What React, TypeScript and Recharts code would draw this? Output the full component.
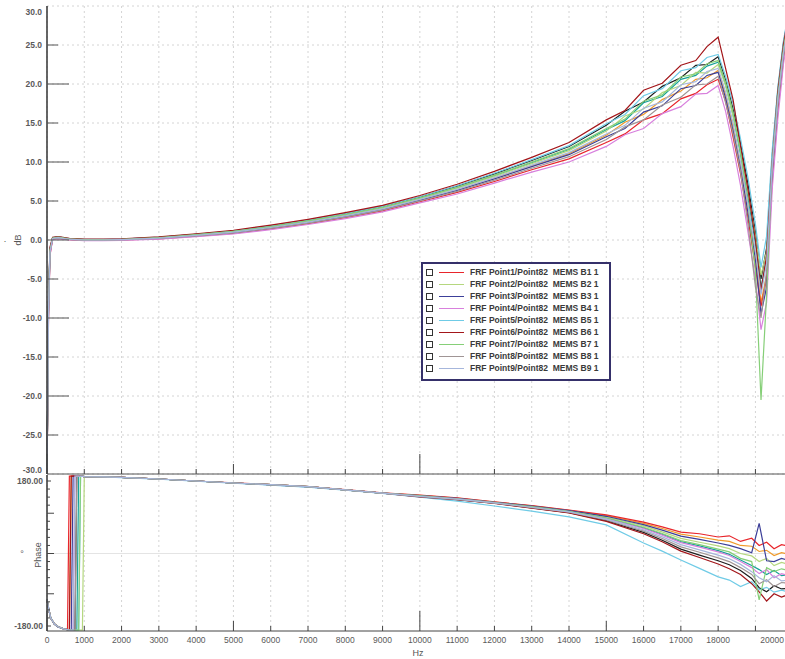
import React from 'react'
import {
  CartesianGrid,
  Legend,
  Line,
  LineChart,
  ReferenceLine,
  XAxis,
  YAxis,
} from 'recharts'

// frequency grid shared by every magnitude trace (Hz)
const magHz = [
  0, 40, 80, 150, 300, 600, 1000, 1500, 2000, 3000, 4000, 5000, 6000, 7000,
  8000, 9000, 10000, 11000, 12000, 13000, 14000, 15000, 15500, 16000, 16500,
  17000, 17400, 17700, 18000, 18200, 18400, 18600, 18800, 19000, 19150, 19300,
  19450, 19600, 19750, 19900, 20050,
]

// magnitude, dB
const magB1 = [-31, -10, -1.9, 0.1, 0.2, 0.05, -0.05, -0.05, 0, 0.15, 0.48, 0.85, 1.42, 2.09, 2.86, 3.73, 4.9, 6.1, 7.5, 9.0, 10.4, 12.5, 13.6, 15.4, 16.2, 18.1, 18.8, 19.9, 20.6, 17.8, 13.2, 8.5, 2.8, -3.5, -8.5, -5.0, 7.5, 16.5, 23.0, 27.7, 31.5]
const magB2 = [-31, -8.7, -1.4, 0.23, 0.33, 0.12, 0.02, 0.02, 0.07, 0.28, 0.64, 1.05, 1.66, 2.37, 3.18, 4.09, 5.3, 6.63, 8.16, 9.8, 11.46, 13.96, 15.9, 16.8, 18.9, 19.8, 21.5, 21.4, 22.5, 19.8, 15.9, 11.5, 6.0, 0.5, -4.5, -1.5, 10.5, 18.8, 24.6, 28.9, 32.2]
const magB3 = [-31, -9.3, -1.6, 0.17, 0.27, 0.08, -0.02, -0.02, 0.03, 0.22, 0.56, 0.95, 1.54, 2.23, 3.02, 3.91, 5.1, 6.37, 7.84, 9.4, 10.94, 13.24, 14.3, 16.4, 17.2, 19.4, 19.8, 21.1, 21.5, 18.2, 14.0, 9.2, 3.5, -2.5, -9.5, -6.0, 8.5, 17.5, 23.8, 28.3, 31.8]
const magB4 = [-31, -10.4, -2.0, 0.07, 0.17, 0.01, -0.09, -0.09, -0.04, 0.12, 0.42, 0.78, 1.33, 1.99, 2.74, 3.6, 4.75, 5.9, 7.3, 8.7, 10.0, 12.0, 13.5, 14.3, 16.2, 17.1, 18.7, 18.8, 19.8, 16.5, 12.0, 7.0, 1.0, -5.0, -11.5, -8.0, 6.5, 15.5, 22.5, 27.3, 31.2]
const magB5 = [-31, -8.0, -1.1, 0.3, 0.4, 0.17, 0.07, 0.07, 0.12, 0.36, 0.74, 1.18, 1.81, 2.55, 3.38, 4.32, 5.55, 6.96, 8.56, 10.3, 12.1, 14.9, 16.1, 18.5, 19.4, 21.7, 22.1, 23.4, 23.8, 21.0, 17.5, 13.0, 8.0, 2.0, -3.5, 0.5, 11.5, 19.5, 25.5, 29.5, 32.5]
const magB6 = [-31, -7.5, -0.9, 0.35, 0.45, 0.2, 0.1, 0.1, 0.15, 0.4, 0.8, 1.25, 1.9, 2.65, 3.5, 4.45, 5.7, 7.15, 8.8, 10.6, 12.5, 15.4, 16.6, 19.2, 20.1, 22.4, 23.0, 24.8, 26.0, 22.0, 18.0, 12.0, 6.5, 0.0, -6.5, -2.0, 10.0, 19.0, 25.0, 29.3, 32.4]
const magB7 = [-31, -8.4, -1.3, 0.26, 0.36, 0.14, 0.04, 0.04, 0.09, 0.31, 0.68, 1.1, 1.72, 2.44, 3.26, 4.18, 5.4, 6.76, 8.32, 10.0, 11.72, 14.3, 15.5, 17.8, 18.6, 20.9, 21.3, 22.6, 23.0, 20.2, 16.4, 11.2, 4.5, -4.0, -20.5, -7.0, 9.8, 18.4, 24.4, 28.8, 32.1]
const magB8 = [-31, -9.6, -1.7, 0.14, 0.24, 0.06, -0.04, -0.04, 0.01, 0.19, 0.52, 0.9, 1.48, 2.16, 2.94, 3.82, 5.0, 6.24, 7.68, 9.2, 10.68, 12.88, 14.5, 15.4, 17.3, 18.3, 19.9, 20.0, 21.0, 17.6, 13.6, 8.8, 2.0, -6.0, -10.0, -4.0, 8.8, 17.2, 23.5, 28.0, 31.6]
const magB9 = [-31, -9.0, -1.5, 0.2, 0.3, 0.1, 0.0, 0.0, 0.05, 0.25, 0.6, 1.0, 1.6, 2.3, 3.1, 4.0, 5.2, 6.5, 8.0, 9.6, 11.2, 13.6, 14.7, 16.9, 17.7, 19.9, 20.3, 21.6, 22.0, 19.0, 15.0, 10.0, 4.5, -1.5, -7.0, -3.0, 9.5, 18.0, 24.0, 28.5, 32.0]
// other points of the set, not in the legend
const magX1 = [-31, -8.1, -1.15, 0.29, 0.39, 0.16, 0.06, 0.06, 0.11, 0.34, 0.72, 1.15, 1.78, 2.51, 3.34, 4.27, 5.5, 6.9, 8.48, 10.2, 11.98, 14.7, 16.5, 17.7, 19.7, 20.8, 22.4, 22.5, 23.5, 20.5, 16.8, 12.4, 7.2, 1.0, -5.0, -1.0, 10.8, 19.2, 25.2, 29.3, 32.3]
const magX2 = [-31, -9.1, -1.55, 0.18, 0.28, 0.09, -0.01, -0.01, 0.04, 0.23, 0.58, 0.97, 1.57, 2.26, 3.06, 3.95, 5.15, 6.43, 7.92, 9.5, 11.07, 13.42, 15.1, 16.1, 18.0, 19.1, 20.6, 20.8, 21.74, 18.6, 14.5, 9.6, 4.0, -2.0, -8.0, -4.5, 9.0, 17.8, 23.9, 28.4, 31.9]
const magX3 = [-31, -8.55, -1.32, 0.25, 0.35, 0.13, 0.03, 0.03, 0.08, 0.3, 0.66, 1.08, 1.69, 2.4, 3.22, 4.13, 5.35, 6.7, 8.24, 9.9, 11.6, 14.14, 15.3, 17.6, 18.4, 20.6, 21.1, 22.3, 22.8, 19.9, 16.0, 11.0, 5.5, -0.5, -6.0, -2.5, 10.2, 18.6, 24.8, 29.0, 32.2]

// frequency grid for the phase traces (Hz), dense around the wrap
const phaseHz = [
  0, 50, 100, 200, 300, 450, 550, 600, 650, 700, 750, 800, 850, 900, 950, 1000,
  1500, 2000, 3000, 4000, 5000, 6000, 7000, 8000, 9000, 10000, 11000, 12000,
  13000, 14000, 15000, 16000, 16500, 17000, 17500, 18000, 18300, 18600, 18900,
  19100, 19300, 19500, 19700, 20000, 20300,
]

// phase, degrees (wrapped)
const phB1 = [-114, -139, -160, -175, -182, -187, -189, 192, 192, 192, 192, 192, 192, 191.5, 191.5, 191, 190, 189, 185, 180, 175.5, 171, 166, 158.5, 150.5, 145, 138, 128, 119, 108, 96, 78, 66, 53, 49, 41, 44, 30, 38, 20, 28, 12, 22, 16, 10]
const phB2 = [-115, -140, -160, -175, -182, -187, -189, -190, -190, -190, -190, -190, -190, -190, -190, 191, 190, 189, 185, 180, 175, 171, 166, 158, 150, 143.5, 136.5, 126.8, 116.9, 105.6, 90.6, 68.4, 53.7, 37.4, 28, 19, 12, 0, -6, -20, -12, -30, -22, -30, -35]
const phB3 = [-116, -141, -161, -176, -183, -187, -189, -190, -190, 192, 192, 192, 192, 191.5, 191.5, 191, 190, 189, 185, 180, 175, 170.5, 165.5, 158, 150, 144, 137, 127.2, 117.6, 106.4, 92.4, 71.6, 58, 43, 35, 26, 20, 12, 2, 75, -18, -20, -12, -20, -25]
const phB4 = [-115, -140, -160, -175, -182, -187, -189, -190, -190, -190, 192, 192, 192, 191.5, 191.5, 191, 190, 189, 185, 180, 175, 171, 166, 158, 150, 142.5, 135.5, 126, 115.5, 104, 87, 62, 45.5, 27, 16, 4, -5, -20, -35, -50, -40, -60, -50, -57, -60]
const phB5 = [-113, -138, -159, -175, -182, -187, -189, -190, -190, -190, -190, -190, -190, 191.5, 191.5, 191, 190, 188.5, 184.5, 179.5, 174.5, 170, 165, 157, 149, 140, 130, 118, 105, 91, 71, 26, 6, -16, -37, -58, -66, -82, -70, -90, -84, -96, -91, -98, -100]
const phB6 = [-115, -140, -160, -175, -182, -187, -189, -190, 192, 192, 192, 192, 192, 191.5, 191.5, 191, 190, 189, 185, 180, 175, 171, 166, 158, 150, 140.5, 133.5, 124.4, 112.7, 100.8, 79.8, 49.2, 29, 6, -10, -26, -38, -52, -75, -95, -118, -100, -108, -98, -96]
const phB7 = [-115, -140, -160, -175, -182, -187, -189, -190, -190, -190, -190, -190, -190, 191.5, 191.5, 191, 190, 189, 185, 180, 175, 171, 166, 158, 150, 143, 136, 126.4, 116.2, 104.8, 88.8, 65.2, 49.6, 32, 22, 11, 4, -12, -20, -115, -35, -45, -38, -45, -48]
const phB8 = [-115, -140, -160, -175, -182, -187, -189, -190, -190, -190, -190, 192, 192, 191.5, 191.5, 191, 190, 189, 185, 180, 175, 171, 166, 158, 150, 141.5, 134.5, 125.2, 114.1, 102.4, 83.4, 55.6, 37.3, 16.6, 3, -11, -20, -35, -52, -75, -65, -82, -72, -75, -78]
const phB9 = [-115, -140, -160, -175, -182, -187, -189, -190, -190, -190, 192, 192, 192, 191.5, 191.5, 191, 190, 189, 185, 180, 175, 171, 166, 158, 150, 142, 135, 125.6, 114.8, 103.2, 85.2, 58.8, 41.4, 22, 9, -4, -13, -27, -45, -60, -70, -55, -68, -65, -68]
const phX1 = [-115, -140, -160, -175, -182, -187, -189, -190, -190, -190, -190, 192, 192, 191.5, 191.5, 191, 190, 189, 185, 180, 175, 171, 166, 158, 150, 141, 134, 124.8, 113.4, 101.6, 81.6, 52.4, 33, 11, -4, -18, -28, -42, -62, -85, -95, -80, -88, -85, -88]
const phX2 = [-115, -140, -160, -175, -182, -187, -189, -190, 192, 192, 192, 192, 192, 191.5, 191.5, 191, 190, 189, 185, 180, 175, 171, 166, 158, 150, 144.5, 137.5, 127.6, 118.3, 107.2, 94.2, 74.8, 62, 48, 41, 33, 30, 20, 18, 5, 8, -5, 2, -3, -8]
const phX3 = [-115, -140, -160, -175, -182, -187, -189, -190, -190, -190, -190, -190, 192, 191.5, 191.5, 191, 190, 189, 185, 180, 175, 171, 166, 158, 150, 142.8, 135.8, 126.2, 115.9, 104.4, 87.9, 63.6, 47.6, 29.6, 19, 7, -2, -16, -30, -40, -52, -42, -55, -50, -55]

const hzTicks = [0, 1000, 2000, 3000, 4000, 5000, 6000, 7000, 8000, 9000, 10000, 11000, 12000, 13000, 14000, 15000, 16000, 17000, 18000, 19000, 20000, 21000]
const magTicks = [-30, -25, -20, -15, -10, -5, 0, 5, 10, 15, 20, 25, 30]
const phaseTicks = [-180, -160, -140, -120, -100, -80, -60, -40, -20, 0, 20, 40, 60, 80, 100, 120, 140, 160, 180]

const traces = [
  { key: 'x1', name: 'other 1', color: '#1e1e1e', mag: magX1, phase: phX1, legend: false },
  { key: 'x2', name: 'other 2', color: '#f09a2a', mag: magX2, phase: phX2, legend: false },
  { key: 'x3', name: 'other 3', color: '#17a398', mag: magX3, phase: phX3, legend: false },
  { key: 'b1', name: 'FRF Point1/Point82  MEMS B1 1', color: '#e8252b', mag: magB1, phase: phB1, legend: true },
  { key: 'b2', name: 'FRF Point2/Point82  MEMS B2 1', color: '#b5d77f', mag: magB2, phase: phB2, legend: true },
  { key: 'b3', name: 'FRF Point3/Point82  MEMS B3 1', color: '#3c3f99', mag: magB3, phase: phB3, legend: true },
  { key: 'b4', name: 'FRF Point4/Point82  MEMS B4 1', color: '#d880dd', mag: magB4, phase: phB4, legend: true },
  { key: 'b5', name: 'FRF Point5/Point82  MEMS B5 1', color: '#6fcbe6', mag: magB5, phase: phB5, legend: true },
  { key: 'b6', name: 'FRF Point6/Point82  MEMS B6 1', color: '#a3161a', mag: magB6, phase: phB6, legend: true },
  { key: 'b7', name: 'FRF Point7/Point82  MEMS B7 1', color: '#86cf78', mag: magB7, phase: phB7, legend: true },
  { key: 'b8', name: 'FRF Point8/Point82  MEMS B8 1', color: '#a09595', mag: magB8, phase: phB8, legend: true },
  { key: 'b9', name: 'FRF Point9/Point82  MEMS B9 1', color: '#a6b6dc', mag: magB9, phase: phB9, legend: true },
]
const legendNames = traces.filter((t) => t.legend).map((t) => t.name)

const magRows = magHz.map((hz, i) => {
  const row: Record<string, number> = { hz }
  traces.forEach((t) => (row[t.key] = t.mag[i]))
  return row
})
const phaseRows = phaseHz.map((hz, i) => {
  const row: Record<string, number> = { hz }
  traces.forEach((t) => (row[t.key] = t.phase[i]))
  return row
})

const AXIS_X = 47 // left edge of both plots
const MAG_BOTTOM = 474
const PH_BOTTOM = 156
const tickFont = { fontSize: 8.5, fill: '#5a5a5a' }

const tickLen = (v: number) => (v % 10000 === 0 ? 20 : v % 5000 === 0 ? 10 : 5)

function EdgeTick(props: any) {
  const { x, payload } = props
  return <line x1={x} x2={x} y1={MAG_BOTTOM} y2={MAG_BOTTOM - tickLen(payload.value)} stroke="#444" />
}

function HzTick(props: any) {
  const { x, payload } = props
  const v = payload.value
  const show = v !== 19000 && v !== 21000
  // the last label is pulled inside the page so that it is not cut off
  const last = v === 20000
  return (
    <g>
      <line x1={x} x2={x} y1={PH_BOTTOM} y2={PH_BOTTOM - tickLen(v)} stroke="#444" />
      {show && (
        <text x={last ? 784 : x} y={PH_BOTTOM + 12} textAnchor={last ? 'end' : 'middle'} {...tickFont}>
          {v}
        </text>
      )}
    </g>
  )
}

function MagTick(props: any) {
  const { y, payload } = props
  const v = payload.value
  const edge = Math.abs(v) === 30
  const dy = v === 30 ? 6 : v === -30 ? -4 : 0
  return (
    <g>
      <text x={42} y={y + dy} dy={3} textAnchor="end" {...tickFont} fontWeight={600}>
        {v.toFixed(1)}
      </text>
      {!edge && (
        <line x1={AXIS_X} x2={AXIS_X + (v % 10 === 0 ? 22 : 11)} y1={y} y2={y} stroke="#555" />
      )}
    </g>
  )
}

function PhaseTick(props: any) {
  const { y, payload } = props
  const v = payload.value
  const end = Math.abs(v) === 180
  const len = end ? 4 : v % 100 === 0 ? 7 : 3
  return (
    <g>
      <line x1={AXIS_X} x2={AXIS_X + len} y1={y} y2={y} stroke="#444" />
      {end && (
        <text x={43} y={y} dy={3} textAnchor="end" {...tickFont} fontWeight={600}>
          {v.toFixed(2)}
        </text>
      )}
    </g>
  )
}

function LegendBox(props: any) {
  const items = (props.payload || []).filter((p: any) => legendNames.includes(p.value))
  return (
    <div
      style={{
        border: '2px solid #35306a',
        background: '#fff',
        padding: '2px 4px 5px 2px',
        width: 190,
        boxSizing: 'border-box',
      }}
    >
      {items.map((p: any) => (
        <div key={p.value} style={{ display: 'flex', alignItems: 'center', height: 12 }}>
          <span style={{ width: 5, height: 5, border: '1px solid #333', marginLeft: 1, marginRight: 6 }} />
          <span style={{ width: 25, height: 0, borderTop: `1.5px solid ${p.color}`, marginRight: 6 }} />
          <span style={{ fontSize: 8.5, color: '#3a3a3a', fontWeight: 600, whiteSpace: 'pre' }}>{p.value}</span>
        </div>
      ))}
    </div>
  )
}

const axisTitle = (left: number, top: number, text: string, rotate = true) => (
  <div
    style={{
      position: 'absolute',
      left,
      top,
      fontSize: 9,
      color: '#555',
      transform: rotate ? 'translate(-50%, -50%) rotate(-90deg)' : 'translate(-50%, -50%)',
      whiteSpace: 'nowrap',
    }}
  >
    {text}
  </div>
)

export default function App() {
  return (
    <div
      style={{
        position: 'absolute',
        left: 0,
        top: 0,
        width: 785,
        height: 659,
        overflow: 'hidden',
        background: '#fff',
        fontFamily: '"Liberation Sans", Arial, sans-serif',
      }}
    >
      <div style={{ position: 'absolute', left: 0, top: 0 }}>
        <LineChart width={830} height={476} data={magRows} margin={{ top: 6, right: 0, bottom: 1, left: 0 }}>
          <CartesianGrid stroke="#d4d4d4" strokeDasharray="2 3" />
          <XAxis
            dataKey="hz"
            type="number"
            domain={[0, 21000]}
            ticks={hzTicks}
            interval={0}
            height={1}
            tickLine={false}
            axisLine={{ stroke: '#555' }}
            tick={<EdgeTick />}
          />
          <XAxis
            xAxisId="top"
            orientation="top"
            dataKey="hz"
            type="number"
            domain={[0, 21000]}
            height={0}
            tick={false}
            tickLine={false}
            axisLine={{ stroke: '#999' }}
          />
          <YAxis
            type="number"
            domain={[-30, 30]}
            ticks={magTicks}
            interval={0}
            allowDataOverflow
            width={AXIS_X}
            tickLine={false}
            axisLine={{ stroke: '#333', strokeWidth: 1.5 }}
            tick={<MagTick />}
          />
          <Legend
            layout="vertical"
            align="center"
            verticalAlign="middle"
            content={<LegendBox />}
            wrapperStyle={{ left: 421, top: 262, width: 'auto', height: 'auto' }}
          />
          {traces.map((t) => (
            <Line
              key={t.key}
              dataKey={t.key}
              name={t.name}
              stroke={t.color}
              strokeWidth={1.2}
              dot={false}
              legendType={t.legend ? 'line' : 'none'}
              isAnimationActive={false}
            />
          ))}
        </LineChart>
      </div>

      <div style={{ position: 'absolute', left: 0, top: 475 }}>
        <LineChart width={830} height={184} data={phaseRows} margin={{ top: 0, right: 0, bottom: 0, left: 0 }}>
          <CartesianGrid stroke="#d4d4d4" strokeDasharray="2 3" horizontal={false} />
          <ReferenceLine y={0} stroke="#e4e4e4" />
          <XAxis
            dataKey="hz"
            type="number"
            domain={[0, 21000]}
            ticks={hzTicks}
            interval={0}
            height={28}
            tickLine={false}
            axisLine={{ stroke: '#444' }}
            tick={<HzTick />}
          />
          <XAxis
            xAxisId="top"
            orientation="top"
            dataKey="hz"
            type="number"
            domain={[0, 21000]}
            height={0}
            tick={false}
            tickLine={false}
            axisLine={{ stroke: '#555' }}
          />
          <YAxis
            type="number"
            domain={[-192.4, 194.9]}
            ticks={phaseTicks}
            interval={0}
            allowDataOverflow
            width={AXIS_X}
            tickLine={false}
            axisLine={{ stroke: '#333', strokeWidth: 1.5 }}
            tick={<PhaseTick />}
          />
          {traces.map((t) => (
            <Line
              key={t.key}
              dataKey={t.key}
              name={t.name}
              stroke={t.color}
              strokeWidth={1.2}
              dot={false}
              legendType="none"
              isAnimationActive={false}
            />
          ))}
        </LineChart>
      </div>

      {axisTitle(5, 241, '·', false)}
      {axisTitle(18, 240, 'dB')}
      {axisTitle(22, 554, '°', false)}
      {axisTitle(38, 555, 'Phase')}
      {axisTitle(418, 653, 'Hz', false)}
    </div>
  )
}
